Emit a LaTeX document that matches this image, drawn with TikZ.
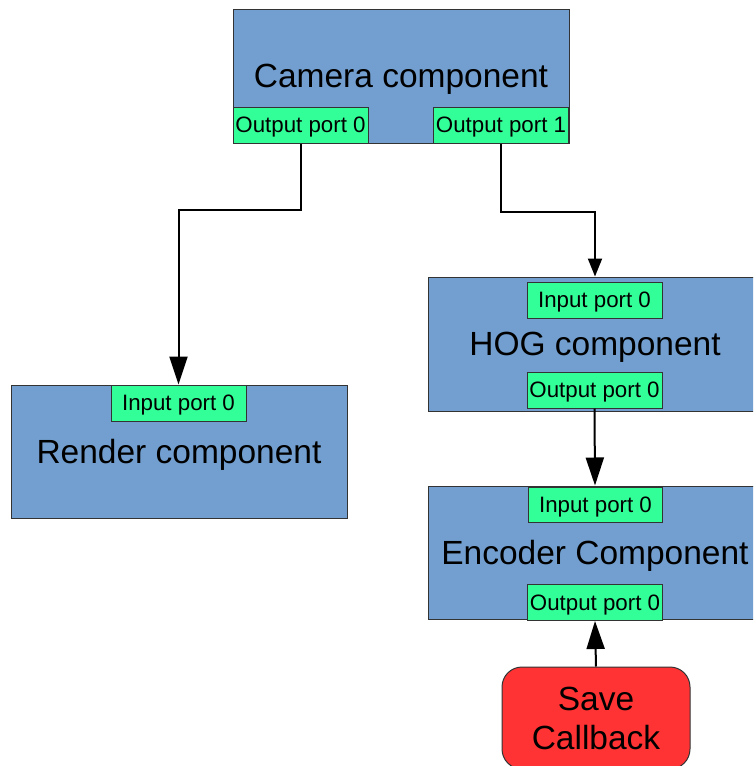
\documentclass[tikz,border=0pt]{standalone}
\usepackage{fontspec}
\setmainfont{Liberation Sans}
\usetikzlibrary{arrows.meta}
\definecolor{compblue}{HTML}{729FCF}
\definecolor{portgreen}{HTML}{33FF99}
\definecolor{cbred}{HTML}{FF3333}
\definecolor{edgegray}{HTML}{333333}

\begin{document}
\begin{tikzpicture}[x=1pt,y=-1pt,
  comp/.style={draw=edgegray, line width=1pt, fill=compblue, inner sep=0pt,
    text height=30.3pt, text depth=7.1pt, font=\fontsize{33.5}{39}\selectfont},
  port/.style={draw=edgegray, line width=1pt, fill=portgreen, inner sep=0pt,
    text height=20.2pt, text depth=4.7pt,
    minimum width=135pt, minimum height=36pt, font=\fontsize{22.3}{26}\selectfont},
  callback/.style={draw=edgegray, line width=1pt, fill=cbred, rounded corners=20pt,
    inner sep=0pt, align=center, font=\fontsize{33.5}{39}\selectfont},
  link/.style={line width=2pt, draw=black},
  bigtip/.style={-{Triangle[length=28pt,width=18pt]}},
  smalltip/.style={-{Triangle[length=18pt,width=14pt]}}]

\useasboundingbox (0,0) rectangle (753,766);
\clip (0,0) rectangle (753,766);

% camera component with its two outputs
\node[comp, minimum width=336pt, minimum height=134pt] (cam) at (401,76) {Camera component};
\node[port] (camout0) at (300.5,125) {Output port 0};
\node[port] (camout1) at (501,125) {Output port 1};

% render component
\node[comp, minimum width=336pt, minimum height=133pt] (render) at (179,451.5) {Render component};
\node[port] (renderin) at (178.5,403) {Input port 0};

% HOG component
\node[comp, minimum width=334pt, minimum height=134pt] (hog) at (595,344) {HOG component};
\node[port] (hogin) at (594.5,300) {Input port 0};
\node[port] (hogout) at (594.5,390) {Output port 0};

% encoder component
\node[comp, minimum width=334pt, minimum height=133pt] (enc) at (595,552.5) {Encoder Component};
\node[port, minimum width=134pt, minimum height=35pt] (encin) at (595.5,505) {Input port 0};
\node[port] (encout) at (595,602.5) {Output port 0};

% save callback
\node[callback, minimum width=188pt, minimum height=102pt] (save) at (596,718) {Save\\Callback};

% connections
\draw[link, bigtip] (camout0.south) -- ++(0,66) -| (renderin.north);
\draw[link, smalltip] (camout1.south) -- ++(0,68) -| (hog.north);
\draw[link, bigtip] (hogout.south) -- (enc.north);
\draw[link, bigtip] (save.north) -- (encout.south);
\end{tikzpicture}
\end{document}
